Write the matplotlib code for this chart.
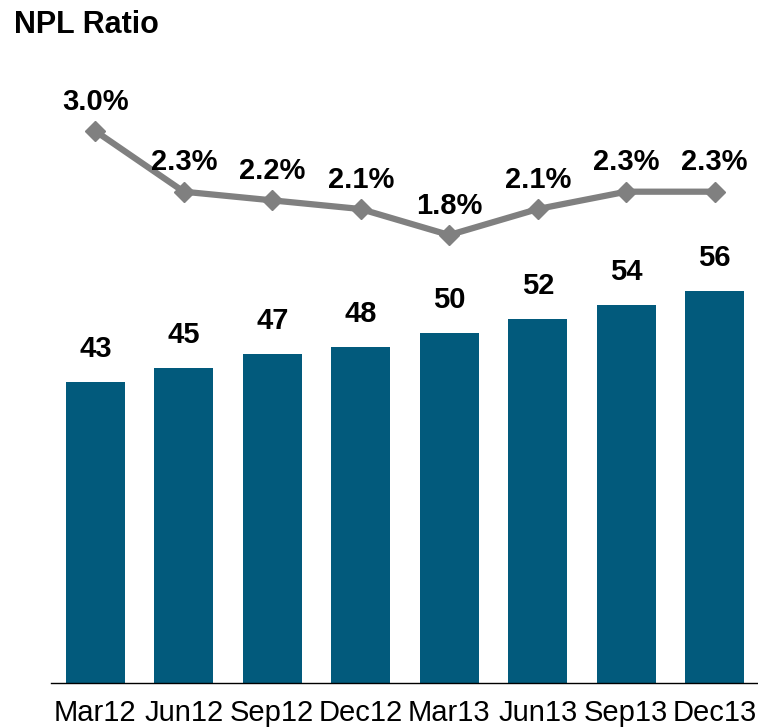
import matplotlib
matplotlib.use("Agg")
import matplotlib.pyplot as plt

plt.rcParams['font.family'] = ['Liberation Sans', 'DejaVu Sans']

# donnees
quarters = ["Mar12", "Jun12", "Sep12", "Dec12", "Mar13", "Jun13", "Sep13", "Dec13"]
npl_volume = [43, 45, 47, 48, 50, 52, 54, 56]
npl_ratio = [3.0, 2.3, 2.2, 2.1, 1.8, 2.1, 2.3, 2.3]

bar_color = "#025A7C"
line_color = "#808080"

fig = plt.figure(figsize=(7.58, 7.28), dpi=100)
W, H = 758, 728
# axes : bas a y=683 px, haut a y=60 px
ax = fig.add_axes([51 / W, (H - 683) / H, 708 / W, 623 / H])
x = range(len(quarters))
ax.bar(x, npl_volume, width=0.67, color=bar_color, zorder=2)
ax.set_xlim(-0.5, 7.5)
ax.set_ylim(0, 89)
for xi, v in zip(x, npl_volume):
    ax.annotate(str(v), (xi, v), xytext=(0, 14), textcoords="offset points",
                ha="center", va="bottom", fontsize=21, fontweight="bold")

ax.set_xticks(list(x))
ax.set_xticklabels(quarters, fontsize=21)
ax.tick_params(axis="x", length=0, pad=11.5)
ax.set_yticks([])
for s in ["top", "right", "left"]:
    ax.spines[s].set_visible(False)
ax.spines["bottom"].set_linewidth(1.0)
ax.spines["bottom"].set_color("black")

# ratio sur un axe secondaire
ax2 = ax.twinx()
ax2.plot(x, npl_ratio, color=line_color, lw=4.5, marker="D", markersize=10, zorder=3)
ax2.set_ylim(-3.367, 3.819)
ax2.set_xlim(-0.5, 7.5)
ax2.axis("off")
for xi, v in zip(x, npl_ratio):
    ax2.annotate(f"{v:.1f}%", (xi, v), xytext=(0, 11), textcoords="offset points",
                 ha="center", va="bottom", fontsize=21, fontweight="bold")

fig.text(14 / W, 1 - 10 / H, "NPL Ratio", fontsize=22, fontweight="bold",
         ha="left", va="top")

fig.savefig("out.png", dpi=100)
